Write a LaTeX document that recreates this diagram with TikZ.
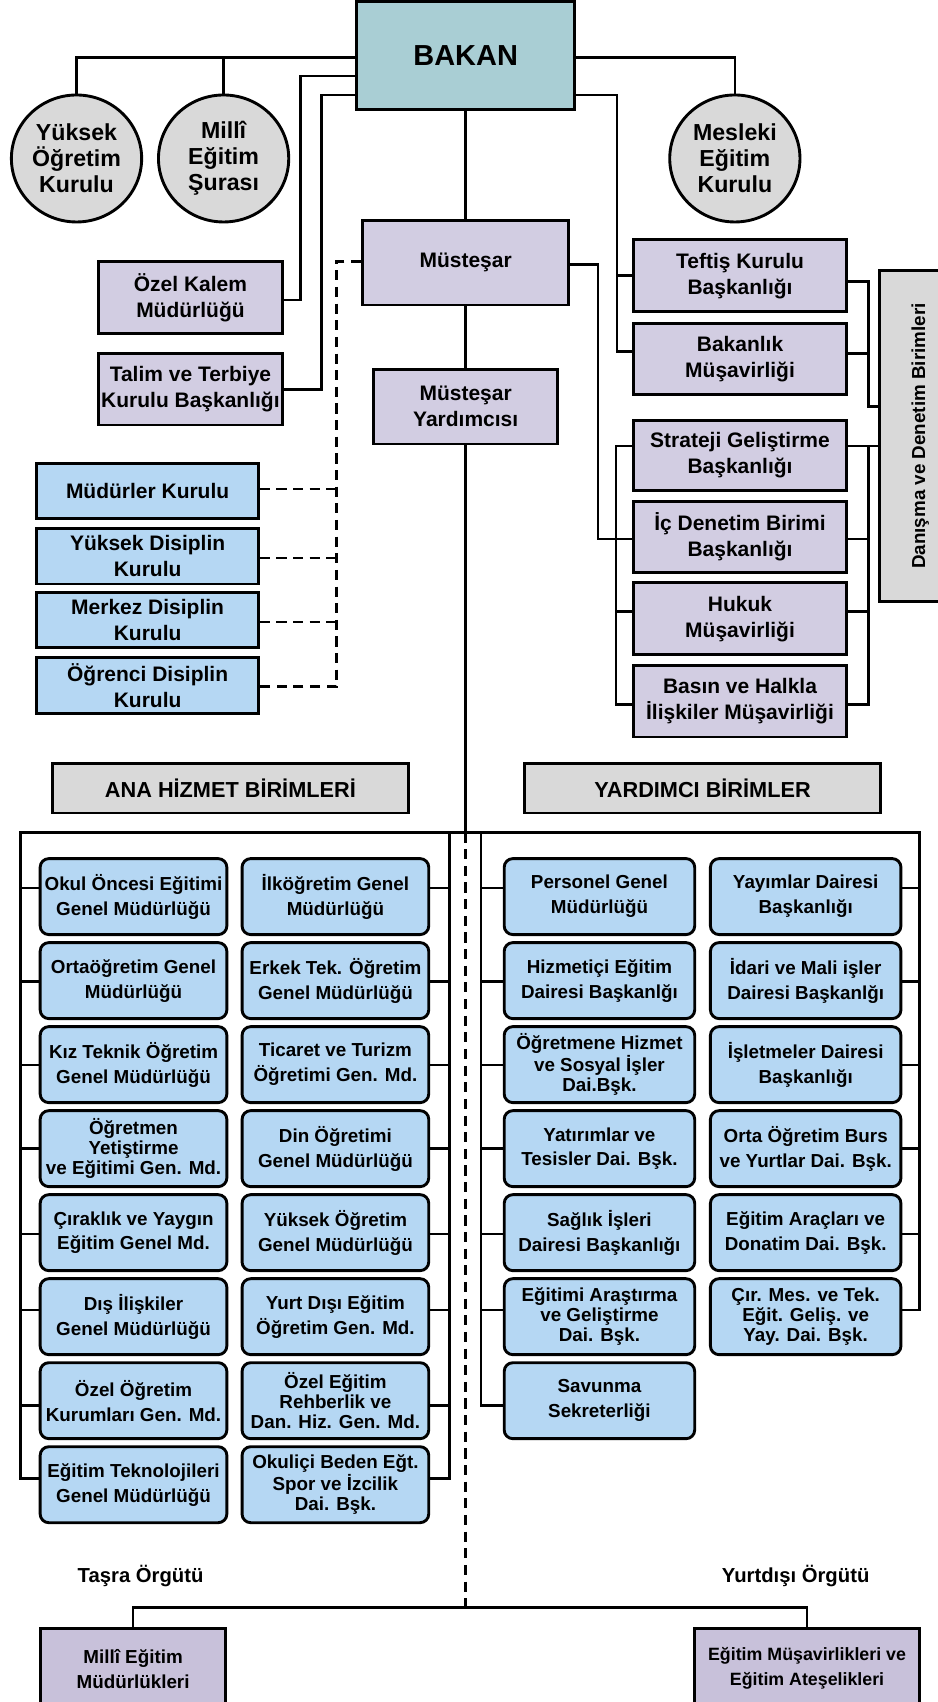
\documentclass[tikz,border=0pt]{standalone}
\usepackage{fontspec}
\setmainfont{Liberation Sans}
\usetikzlibrary{shapes.geometric,calc}
\definecolor{bakanc}{HTML}{A9CED4}
\definecolor{lav}{HTML}{D2CDE2}
\definecolor{lavd}{HTML}{C8C1DA}
\definecolor{bluec}{HTML}{B5D7F3}
\definecolor{grayc}{HTML}{D9D9D9}
\newcommand\place[7]{\node[#1, minimum width={(#5-#3)*0.75pt}, minimum height={(#6-#4)*0.75pt}] (#2) at ({(#3+#5)/2},{(#4+#6)/2}) {#7};}
\tikzset{
  conn/.style={line width=1.8pt},
  dconn/.style={line width=1.8pt, dash pattern=on 7pt off 4.5pt},
  bx/.style={draw, line width=2pt, inner sep=0pt, align=center, font=\bfseries\fontsize{14.5}{18}\selectfont},
  lavbox/.style={bx, fill=lav},
  lavdbox/.style={bx, fill=lavd},
  bluebox/.style={bx, fill=bluec},
  rbox/.style={bx, fill=bluec, rounded corners=6pt, font=\bfseries\fontsize{13}{17.25}\selectfont},
  rboxt/.style={rbox, font=\bfseries\fontsize{13}{13.8}\selectfont},
  hdr/.style={bx, fill=grayc, font=\bfseries\fontsize{15}{18}\selectfont},
  circ/.style={draw, ellipse, fill=grayc, line width=2pt, inner sep=0pt, align=center,
    font=\bfseries\fontsize{16}{18}\selectfont, minimum width=90pt, minimum height=87.75pt},
  lbl/.style={inner sep=0pt, font=\bfseries\fontsize{14}{18}\selectfont}
}
\begin{document}
\begin{tikzpicture}[x=0.75pt,y=-0.75pt]
\useasboundingbox (0,0) rectangle (864,1568);
\clip (0,0) rectangle (864,1568);
\fill[white] (0,0) rectangle (864,1568);

% top
\place{bx, fill=bakanc, font=\bfseries\fontsize{20}{24}\selectfont}{bakan}{328.5}{1.5}{529.5}{101}{BAKAN}
\node[circ] (yok) at (70.5,146) {Yüksek\\Öğretim\\Kurulu};
\node[circ] (msura) at (206,146) {Millî\\Eğitim\\Şurası};
\node[circ] (mek) at (677,146) {Mesleki\\Eğitim\\Kurulu};

\place{lavbox}{ozel}{90.9}{241}{260}{307}{Özel Kalem\\Müdürlüğü}
\place{lavbox}{talim}{90.9}{325.5}{260}{391.5}{Talim ve Terbiye\\Kurulu Başkanlığı}
\place{lavbox}{mus}{334}{203}{524}{281}{Müsteşar}
\place{lavbox}{yrd}{344.5}{340}{513.5}{409}{Müsteşar\\Yardımcısı}

\place{lavbox}{tef}{584}{221}{779.5}{287}{Teftiş Kurulu\\Başkanlığı}
\place{lavbox}{bak}{584}{297.8}{779.5}{363.8}{Bakanlık\\Müşavirliği}
\place{lavbox}{str}{584}{387}{779.5}{452}{Strateji Geliştirme\\Başkanlığı}
\place{lavbox}{icd}{584}{462}{779.5}{527.5}{İç Denetim Birimi\\Başkanlığı}
\place{lavbox}{huk}{584}{537}{779.5}{603}{Hukuk\\Müşavirliği}
\place{lavbox}{bas}{584}{613}{779.5}{679}{Basın ve Halkla\\İlişkiler Müşavirliği}

\node[hdr, rotate=90, font=\bfseries\fontsize{13}{16}\selectfont, minimum width={(554.5-249)*0.75pt}, minimum height={(885-810.6)*0.75pt}] (dan) at (847.8,401.75) {Danışma ve Denetim Birimleri};

\place{bluebox}{mdk}{34}{426.7}{238}{478}{Müdürler Kurulu}
\place{bluebox}{ydk}{34}{487}{238}{538}{Yüksek Disiplin\\Kurulu}
\place{bluebox}{mzk}{34}{545.6}{238}{596.6}{Merkez Disiplin\\Kurulu}
\place{bluebox}{odk}{34}{606}{238}{657.7}{Öğrenci Disiplin\\Kurulu}

\place{hdr}{ana}{48.5}{703.7}{376}{749}{ANA HİZMET BİRİMLERİ}
\place{hdr}{yard}{483}{703.7}{811.5}{749}{YARDIMCI BİRİMLER}

% grid column A
\place{rbox}{a1}{37}{791}{209}{861}{Okul Öncesi Eğitimi\\Genel Müdürlüğü}
\place{rbox}{a2}{37}{868.4}{209}{938.4}{Ortaöğretim Genel\\Müdürlüğü}
\place{rbox}{a3}{37}{945.8}{209}{1015.8}{Kız Teknik Öğretim\\Genel Müdürlüğü}
\place{rboxt}{a4}{37}{1023.2}{209}{1093.2}{Öğretmen\\Yetiştirme\\ve Eğitimi Gen. Md.}
\place{rbox}{a5}{37}{1100.6}{209}{1170.6}{Çıraklık ve Yaygın\\Eğitim Genel Md.}
\place{rbox}{a6}{37}{1178}{209}{1248}{Dış İlişkiler\\Genel Müdürlüğü}
\place{rbox}{a7}{37}{1255.4}{209}{1325.4}{Özel Öğretim\\Kurumları Gen. Md.}
\place{rbox}{a8}{37}{1332.8}{209}{1402.8}{Eğitim Teknolojileri\\Genel Müdürlüğü}
% column B
\place{rbox}{b1}{223}{791}{395}{861}{İlköğretim Genel\\Müdürlüğü}
\place{rbox}{b2}{223}{868.4}{395}{938.4}{Erkek Tek. Öğretim\\Genel Müdürlüğü}
\place{rbox}{b3}{223}{945.8}{395}{1015.8}{Ticaret ve Turizm\\Öğretimi Gen. Md.}
\place{rbox}{b4}{223}{1023.2}{395}{1093.2}{Din Öğretimi\\Genel Müdürlüğü}
\place{rbox}{b5}{223}{1100.6}{395}{1170.6}{Yüksek Öğretim\\Genel Müdürlüğü}
\place{rbox}{b6}{223}{1178}{395}{1248}{Yurt Dışı Eğitim\\Öğretim Gen. Md.}
\place{rboxt}{b7}{223}{1255.4}{395}{1325.4}{Özel Eğitim\\Rehberlik ve\\Dan. Hiz. Gen. Md.}
\place{rboxt}{b8}{223}{1332.8}{395}{1402.8}{Okuliçi Beden Eğt.\\Spor ve İzcilik\\Dai. Bşk.}
% column C
\place{rbox}{c1}{464.5}{791}{640}{861}{Personel Genel\\Müdürlüğü}
\place{rbox}{c2}{464.5}{868.4}{640}{938.4}{Hizmetiçi Eğitim\\Dairesi Başkanlğı}
\place{rboxt}{c3}{464.5}{945.8}{640}{1015.8}{Öğretmene Hizmet\\ve Sosyal İşler\\Dai.Bşk.}
\place{rbox}{c4}{464.5}{1023.2}{640}{1093.2}{Yatırımlar ve\\Tesisler Dai. Bşk.}
\place{rbox}{c5}{464.5}{1100.6}{640}{1170.6}{Sağlık İşleri\\Dairesi Başkanlığı}
\place{rboxt}{c6}{464.5}{1178}{640}{1248}{Eğitimi Araştırma\\ve Geliştirme\\Dai. Bşk.}
\place{rbox}{c7}{464.5}{1255.4}{640}{1325.4}{Savunma\\Sekreterliği}
% column D
\place{rbox}{d1}{654.5}{791}{830}{861}{Yayımlar Dairesi\\Başkanlığı}
\place{rbox}{d2}{654.5}{868.4}{830}{938.4}{İdari ve Mali işler\\Dairesi Başkanlğı}
\place{rbox}{d3}{654.5}{945.8}{830}{1015.8}{İşletmeler Dairesi\\Başkanlığı}
\place{rbox}{d4}{654.5}{1023.2}{830}{1093.2}{Orta Öğretim Burs\\ve Yurtlar Dai. Bşk.}
\place{rbox}{d5}{654.5}{1100.6}{830}{1170.6}{Eğitim Araçları ve\\Donatim Dai. Bşk.}
\place{rboxt}{d6}{654.5}{1178}{830}{1248}{Çır. Mes. ve Tek.\\Eğit. Geliş. ve\\Yay. Dai. Bşk.}

% bottom
\node[lbl] (tasra) at (129.5,1452) {Taşra Örgütü};
\node[lbl] (yurtd) at (733,1452) {Yurtdışı Örgütü};
\place{lavdbox, font=\bfseries\fontsize{13}{17.25}\selectfont}{mil}{37.5}{1500.6}{207.7}{1574}{Millî Eğitim\\Müdürlükleri}
\place{lavdbox, font=\bfseries\fontsize{12.3}{17.25}\selectfont}{emus}{640}{1500.6}{847}{1574}{Eğitim Müşavirlikleri ve\\Eğitim Ateşelikleri}

% ---- connectors ----
\draw[conn] (yok.north) |- (bakan.west |- 0,52.8);
\draw[conn] (msura.north) -- (msura.north |- 0,52.8);
\draw[conn] (bakan.east |- 0,52.8) -| (mek.north);
\draw[conn] (bakan.west |- 0,70) -| (277,276.3) -- (ozel.east |- 0,276.3);
\draw[conn] (bakan.west |- 0,87.5) -| (296.4,359) -- (talim.east |- 0,359);
\draw[conn] (bakan.south) -- (mus.north);
\draw[conn] (mus.south) -- (yrd.north);

\draw[conn] (bakan.east |- 0,87.5) -| (568.5,324) -- (bak.west |- 0,324);
\draw[conn] (568.5,254) -- (tef.west |- 0,254);
\draw[conn] (mus.east |- 0,243.5) -| (551,496.5) -- (icd.west |- 0,496.5);
\draw[conn] (str.west |- 0,411) -| (567.5,649) -- (bas.west |- 0,649);
\draw[conn] (567.5,563.5) -- (huk.west |- 0,563.5);

\draw[conn] (tef.east |- 0,259.5) -| (800,374.5) -- (dan.north |- 0,374.5);
\draw[conn] (bak.east |- 0,325.5) -- (800,325.5);
\draw[conn] (str.east |- 0,411) -- (dan.north |- 0,411);
\draw[conn] (800,411) |- (bas.east |- 0,649);
\draw[conn] (icd.east |- 0,496.5) -- (800,496.5);
\draw[conn] (huk.east |- 0,563.5) -- (800,563.5);

\draw[dconn] (mus.west |- 0,241) -| (310,632.5) -- (odk.east |- 0,632.5);
\draw[dconn] (mdk.east |- 0,450.6) -- (310,450.6);
\draw[dconn] (ydk.east |- 0,514) -- (310,514);
\draw[dconn] (mzk.east |- 0,573) -- (310,573);

\coordinate (barL) at (19,767);
\coordinate (barR) at (847,767);
\draw[conn] (yrd.south) -- (yrd.south |- barL);
\draw[conn] (a8.west |- 0,1362) -| (barL) -- (barR) |- (d6.east |- 0,1207);
\draw[conn] (414,767) |- (b8.east |- 0,1362);
\draw[conn] (443,767) |- (c7.west |- 0,1295);
\foreach \i/\y in {1/818,2/904,3/981,4/1058,5/1137,6/1207,7/1295}{
  \draw[conn] (19,\y) -- (a\i.west |- 0,\y);
  \draw[conn] (414,\y) -- (b\i.east |- 0,\y);
}
\foreach \i/\y in {1/818,2/904,3/981,4/1058,5/1137,6/1207}{
  \draw[conn] (443,\y) -- (c\i.west |- 0,\y);
}
\foreach \i/\y in {1/818,2/904,3/981,4/1058,5/1137}{
  \draw[conn] (847,\y) -- (d\i.east |- 0,\y);
}
\draw[dconn] (yrd.south |- barL) -- (yrd.south |- 0,1481);
\draw[conn] (mil.north) |- (yrd.south |- 0,1481) -| (emus.north);
\end{tikzpicture}
\end{document}
